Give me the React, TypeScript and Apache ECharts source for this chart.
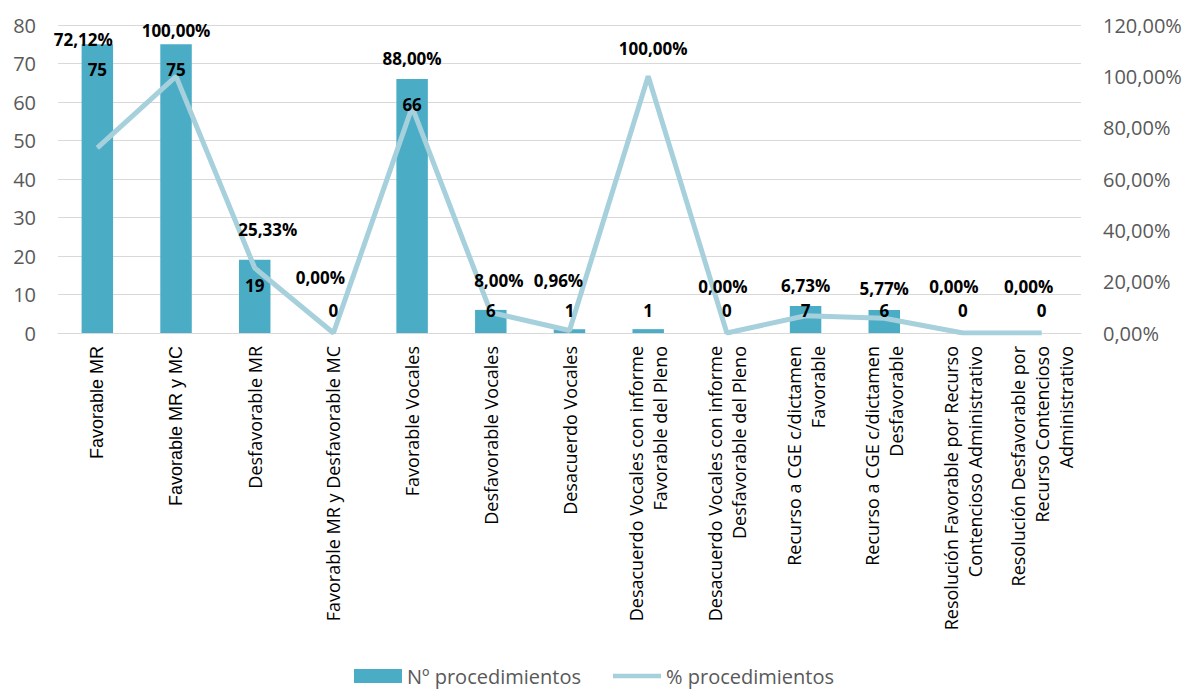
import React, { useEffect, useRef } from "react";
import * as echarts from "echarts";

const categories = [
  "Favorable MR",
  "Favorable MR y MC",
  "Desfavorable MR",
  "Favorable MR y Desfavorable MC",
  "Favorable Vocales",
  "Desfavorable Vocales",
  "Desacuerdo Vocales",
  "Desacuerdo Vocales con informe\nFavorable del Pleno",
  "Desacuerdo Vocales con informe\nDesfavorable del Pleno",
  "Recurso a CGE c/dictamen\nFavorable",
  "Recurso a CGE c/dictamen\nDesfavorable",
  "Resolución Favorable por Recurso\nContencioso Administrativo",
  "Resolución Desfavorable por\nRecurso Contencioso\nAdministrativo",
];
const counts = [75, 75, 19, 0, 66, 6, 1, 1, 0, 7, 6, 0, 0];
const percents = [72.12, 100, 25.33, 0, 88, 8, 0.96, 100, 0, 6.73, 5.77, 0, 0];
const leftTicks = { min: 0, max: 80, interval: 10 };
const rightTicks = { min: 0, max: 120, interval: 20 };

// label placement offsets (style only)
const pctLabelOffsets: [number, number][] = [
  [-14, -108], [0, -46], [13, -38], [-13, -56], [0, -49], [8, -32], [-11, -50],
  [5, -28], [-4, -47], [0, -30], [0, -30], [-9, -47], [-13, -47],
];
// first two category labels rendered in a different face in the reference
const arialCats = 2;

const FONT = "'Open Sans', sans-serif";
const fmtPct = (v: number) => v.toFixed(2).replace(".", ",") + "%";

export default function App() {
  const ref = useRef<HTMLDivElement>(null);
  useEffect(() => {
    const chart = echarts.init(ref.current!, null, { renderer: "svg" });
    const labelStyle = {
      show: true,
      color: "#000",
      fontWeight: "bold",
      fontSize: 17,
      lineHeight: 17,
      fontFamily: FONT,
    };
    chart.setOption({
      animation: false,
      textStyle: { fontFamily: FONT },
      grid: { left: 58, right: 107, top: 25, bottom: 358, containLabel: false },
      legend: {
        top: 660,
        left: "center",
        itemWidth: 48,
        itemHeight: 14,
        itemGap: 32,
        textStyle: { fontSize: 20, lineHeight: 22, color: "#595959", fontFamily: FONT },
        data: [
          { name: "Nº procedimientos", icon: "rect" },
          { name: "% procedimientos", icon: "path://M0,0 L54,0 L54,5 L0,5 Z" },
        ],
      },
      xAxis: {
        type: "category",
        data: categories.map((c, i) =>
          i < arialCats
            ? { value: c, textStyle: { fontFamily: "'Liberation Sans', Arial, sans-serif" } }
            : c
        ),
        axisLine: { lineStyle: { color: "#D9D9D9" } },
        axisTick: { show: false },
        axisLabel: {
          rotate: 90,
          interval: 0,
          margin: 13,
          fontSize: 18,
          lineHeight: 24,
          color: "#000",
          fontFamily: FONT,
        },
      },
      yAxis: [
        {
          type: "value",
          ...leftTicks,
          axisLabel: { fontSize: 20, color: "#595959", margin: 22, fontFamily: FONT },
          splitLine: { lineStyle: { color: "#D9D9D9" } },
          axisLine: { show: false },
        },
        {
          type: "value",
          ...rightTicks,
          position: "right",
          axisLabel: {
            fontSize: 20,
            color: "#595959",
            margin: 22,
            fontFamily: FONT,
            formatter: (v: number) => fmtPct(v),
          },
          splitLine: { show: false },
          axisLine: { show: false },
        },
      ],
      series: [
        {
          name: "Nº procedimientos",
          type: "bar",
          barWidth: "40%",
          z: 2,
          itemStyle: { color: "#4BACC6" },
          data: counts,
        },
        {
          name: "% procedimientos",
          type: "line",
          yAxisIndex: 1,
          z: 3,
          symbol: "circle",
          symbolSize: 1,
          itemStyle: { color: "#A5D0DC" },
          lineStyle: { color: "#A5D0DC", width: 5 },
          data: percents.map((v, i) => ({
            value: v,
            label: { offset: pctLabelOffsets[i] },
          })),
          label: {
            ...labelStyle,
            position: "inside",
            formatter: (p: any) => fmtPct(p.value),
          },
        },
        {
          name: "labels",
          type: "bar",
          barWidth: "40%",
          barGap: "-100%",
          z: 4,
          silent: true,
          itemStyle: { color: "transparent" },
          data: counts.map((v) => ({
            value: v,
            label:
              v >= 10
                ? { position: "insideTop", distance: 17 }
                : { position: "insideBottom", distance: 14 },
          })),
          label: labelStyle,
        },
      ],
    });
    return () => chart.dispose();
  }, []);
  return (
    <div
      ref={ref}
      style={{ position: "absolute", left: 0, top: 0, width: 1188, height: 691 }}
    />
  );
}
